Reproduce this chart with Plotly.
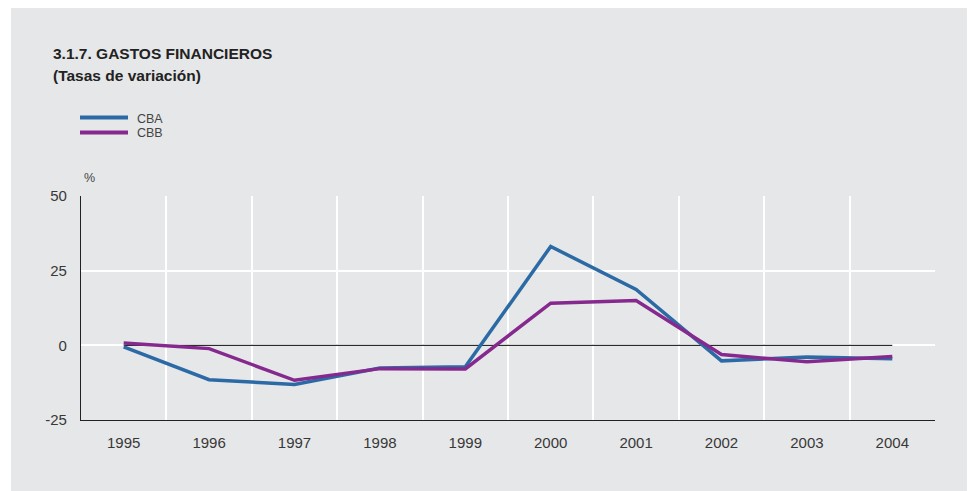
import plotly.graph_objects as go

years = [1995, 1996, 1997, 1998, 1999, 2000, 2001, 2002, 2003, 2004]
year_labels = [str(y) for y in years]
cba = [-0.5, -11.5, -13.1, -7.6, -7.2, 33.1, 18.7, -5.2, -3.9, -4.5]
cbb = [0.8, -1.1, -11.7, -7.8, -7.9, 14.1, 15.0, -3.1, -5.5, -3.7]
y_ticks = [-25, 0, 25, 50]
y_tick_labels = ["-25", "0", "25", "50"]
series_names = ["CBA", "CBB"]
colors = ["#2b6aa5", "#86298f"]

# page body has an 8px margin; the figure is sized so it fills the 975x491 window
OFF = 8
W, H = 975 - OFF, 491 - OFF
L, R, T, B = 81 - OFF, 40, 196 - OFF, 71
PW, PH = W - L - R, H - T - B

def px(x):
    return (x - OFF - L) / PW

def py(y):
    return (H - B - (y - OFF)) / PH

BG = "#e6e7e8"
TXT = "#383838"
FONT = "Liberation Sans, Arial, sans-serif"

fig = go.Figure()
for name, vals, col in zip(series_names, [cba, cbb], colors):
    fig.add_trace(go.Scatter(x=years, y=vals, mode="lines", name=name,
                             line=dict(color=col, width=3.5), showlegend=False))

shapes = [
    dict(type="rect", xref="paper", yref="paper", x0=px(11), x1=px(990), y0=py(6), y1=py(500),
         fillcolor=BG, line=dict(width=0), layer="below"),
    dict(type="line", xref="x", yref="y", x0=years[0], x1=years[-1], y0=0, y1=0,
         line=dict(color="black", width=1), layer="between"),
]
annotations = [
    dict(text="3.1.7. GASTOS FINANCIEROS", xref="paper", yref="paper", x=px(51), y=py(53),
         xanchor="left", yanchor="middle", showarrow=False,
         font=dict(family=FONT, size=15.5, color="#222222", weight="bold")),
    dict(text="(Tasas de variación)", xref="paper", yref="paper", x=px(51), y=py(75),
         xanchor="left", yanchor="middle", showarrow=False,
         font=dict(family=FONT, size=15.5, color="#222222", weight="bold")),
    dict(text="%", xref="paper", yref="paper", x=px(82), y=py(178),
         xanchor="left", yanchor="middle", showarrow=False,
         font=dict(family=FONT, size=12.5, color="#444444")),
]
for i, (name, col) in enumerate(zip(series_names, colors)):
    yy = 117.5 + 15 * i
    shapes.append(dict(type="line", xref="paper", yref="paper", x0=px(80), x1=px(128),
                       y0=py(yy), y1=py(yy), line=dict(color=col, width=4)))
    annotations.append(dict(text=name, xref="paper", yref="paper", x=px(135), y=py(yy + 1),
                            xanchor="left", yanchor="middle", showarrow=False,
                            font=dict(family=FONT, size=12.5, color="#444444")))

fig.update_layout(
    width=W, height=H,
    margin=dict(l=L, r=R, t=T, b=B, pad=0),
    paper_bgcolor="white", plot_bgcolor=BG,
    font=dict(family=FONT, size=15, color=TXT),
    shapes=shapes, annotations=annotations,
    showlegend=False,
    xaxis=dict(range=[1994.5, 2004.5], tickvals=years, ticktext=year_labels,
               showgrid=False, zeroline=False, showline=True, linecolor="#222222", linewidth=1.3,
               ticks="", ticklabelstandoff=9, tickfont=dict(size=15, color=TXT),
               minor=dict(tick0=1994.5, dtick=1, showgrid=True, gridcolor="white", gridwidth=1.5)),
    yaxis=dict(range=[-25, 50], tickvals=y_ticks, ticktext=y_tick_labels,
               showgrid=True, gridcolor="white", gridwidth=1.5,
               zeroline=False, showline=True, linecolor="#222222", linewidth=1.3,
               ticks="", ticklabelstandoff=10, tickfont=dict(size=15, color=TXT)),
)

fig.write_html("out.html")
